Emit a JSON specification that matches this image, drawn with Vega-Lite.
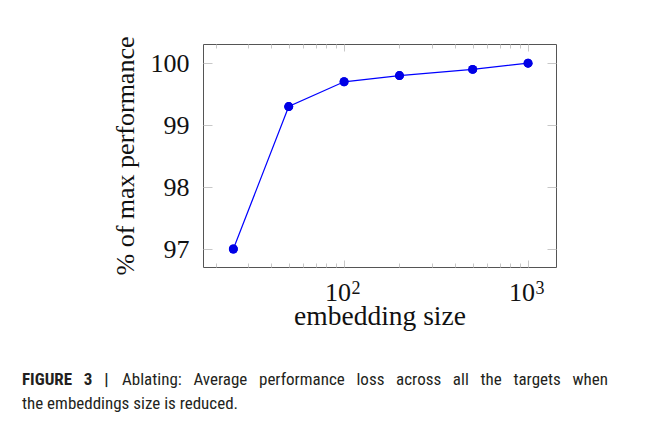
{
  "$schema": "https://vega.github.io/schema/vega-lite/v6.json",
  "autosize": {"type": "pad"},
  "padding": {"left": 21, "top": 35, "right": 0, "bottom": 0},
  "background": "white",
  "bounds": "flush",
  "data": {"values": [
    {"size": 25, "perf": 97.0},
    {"size": 50, "perf": 99.3},
    {"size": 100, "perf": 99.7},
    {"size": 200, "perf": 99.8},
    {"size": 500, "perf": 99.9},
    {"size": 1000, "perf": 100.0}
  ]},
  "title": {
    "text": "Ablating: \u00a0\u00a0Average \u00a0\u00a0performance \u00a0\u00a0loss \u00a0\u00a0across \u00a0\u00a0all \u00a0\u00a0the \u00a0\u00a0targets \u00a0\u00a0when",
    "orient": "bottom",
    "anchor": "start",
    "frame": "group",
    "dx": -81,
    "offset": -41,
    "font": "Liberation Sans Narrow, Roboto Condensed, Liberation Sans",
    "fontSize": 17,
    "fontWeight": "normal",
    "color": "#231f20"
  },
  "config": {
    "view": {"stroke": "#555555", "strokeWidth": 1},
    "axis": {
      "domain": false,
      "grid": false,
      "tickColor": "#c8c8c8",
      "tickWidth": 1,
      "labelFont": "Liberation Serif",
      "labelFontSize": 26,
      "labelColor": "#111111",
      "titleFont": "Liberation Serif",
      "titleFontSize": 27,
      "titleFontWeight": "normal",
      "titleColor": "#111111"
    }
  },
  "vconcat": [
    {
      "width": 353,
      "height": 223,
      "title": {
        "text": "FIGURE \u00a0\u00a03 \u00a0\u00a0|",
        "subtitle": "the embeddings size is reduced.",
        "orient": "bottom",
        "anchor": "start",
        "frame": "group",
        "dx": -181,
        "offset": 42,
        "font": "Liberation Sans Narrow, Roboto Condensed, Liberation Sans",
        "fontSize": 17,
        "fontWeight": "bold",
        "color": "#231f20",
        "subtitleFont": "Liberation Sans Narrow, Roboto Condensed, Liberation Sans",
        "subtitleFontSize": 17,
        "subtitleFontWeight": "normal",
        "subtitleColor": "#231f20",
        "subtitlePadding": 7
      },
      "layer": [
        {
          "mark": {"type": "line", "color": "#0000ff", "strokeWidth": 1.2},
          "encoding": {
            "x": {
              "field": "size", "type": "quantitative",
              "scale": {"type": "log", "domain": [17.1, 1419], "nice": false},
              "axis": {
                "orient": "bottom",
                "title": "embedding size",
                "titleFontSize": 27.5,
                "values": [20, 30, 40, 50, 60, 70, 80, 90, 100, 200, 300, 400, 500, 600, 700, 800, 900, 1000],
                "labelExpr": "datum.value == 100 || datum.value == 1000 ? '10' : ''",
                "labelOffset": -6.5,
                "tickSize": {"condition": {"test": "datum.value == 100 || datum.value == 1000", "value": -7}, "value": -4},
                "labelPadding": 19.5,
                "titlePadding": -3
              }
            },
            "y": {
              "field": "perf", "type": "quantitative",
              "scale": {"domain": [96.71, 100.31], "nice": false, "zero": false},
              "axis": {
                "orient": "left",
                "title": "% of max performance",
                "titleFontSize": 26,
                "values": [97, 98, 99, 100],
                "tickSize": -9,
                "labelPadding": 23,
                "titlePadding": 12
              }
            }
          }
        },
        {
          "mark": {"type": "point", "filled": true, "color": "#0000e6", "opacity": 1, "size": 80},
          "encoding": {
            "x": {
              "field": "size", "type": "quantitative",
              "scale": {"type": "log", "domain": [17.1, 1419], "nice": false},
              "axis": {
                "orient": "top",
                "title": null,
                "labels": false,
                "values": [20, 30, 40, 50, 60, 70, 80, 90, 100, 200, 300, 400, 500, 600, 700, 800, 900, 1000],
                "tickSize": {"condition": {"test": "datum.value == 100 || datum.value == 1000", "value": -7}, "value": -4}
              }
            },
            "y": {
              "field": "perf", "type": "quantitative",
              "scale": {"domain": [96.71, 100.31], "nice": false, "zero": false},
              "axis": {
                "orient": "right",
                "title": null,
                "labels": false,
                "values": [97, 98, 99, 100],
                "tickSize": -9
              }
            }
          }
        },
        {
          "mark": {"type": "point", "filled": true, "color": "#0000e6", "opacity": 1, "size": 80},
          "encoding": {
            "x": {
              "field": "size", "type": "quantitative",
              "scale": {"type": "log", "domain": [17.1, 1419], "nice": false},
              "axis": {
                "orient": "bottom",
                "title": null,
                "ticks": false,
                "values": [100, 1000],
                "labelExpr": "datum.value == 100 ? '2' : '3'",
                "labelFontSize": 18,
                "labelOffset": 11.5,
                "labelPadding": 12
              }
            },
            "y": {
              "field": "perf", "type": "quantitative",
              "scale": {"domain": [96.71, 100.31], "nice": false, "zero": false},
              "axis": null
            }
          }
        }
      ],
      "resolve": {"axis": {"x": "independent", "y": "independent"}}
    }
  ]
}
